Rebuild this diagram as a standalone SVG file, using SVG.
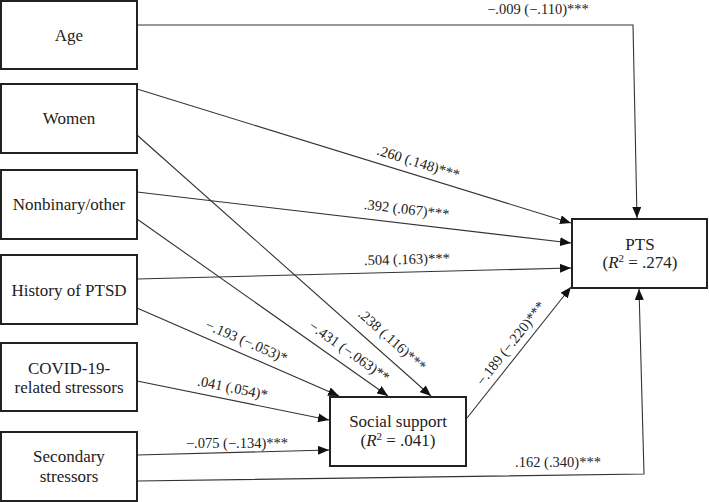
<svg xmlns="http://www.w3.org/2000/svg" width="709" height="502" viewBox="0 0 709 502">
<style>
.box{fill:#fff;stroke:#222;stroke-width:2}
.nt{font-family:"Liberation Serif","Times New Roman",serif;font-size:17px;fill:#222;text-anchor:middle}
.lb{font-family:"Liberation Serif","Times New Roman",serif;font-size:14.5px;fill:#222;text-anchor:middle}
.ln{fill:none;stroke:#333;stroke-width:1.1}
</style>
<defs>
<marker id="ah" viewBox="0 0 10 10" refX="10" refY="5" markerWidth="11" markerHeight="9" markerUnits="userSpaceOnUse" orient="auto" preserveAspectRatio="none">
<path d="M0,0 L10,5 L0,10 Z" fill="#111"/>
</marker>
</defs>
<rect width="709" height="502" fill="#fff"/>
<g id="connectors">
<path class="ln" d="M137,25 L633,25 L637,218" marker-end="url(#ah)"/>
<path class="ln" d="M137,89 L571,223" marker-end="url(#ah)"/>
<path class="ln" d="M137,135 L431,396" marker-end="url(#ah)"/>
<path class="ln" d="M137,192 L571,243" marker-end="url(#ah)"/>
<path class="ln" d="M137,219 L388,396" marker-end="url(#ah)"/>
<path class="ln" d="M137,279 L571,268" marker-end="url(#ah)"/>
<path class="ln" d="M137,308 L339,396" marker-end="url(#ah)"/>
<path class="ln" d="M137,381 L329,420" marker-end="url(#ah)"/>
<path class="ln" d="M137,455 L329,450" marker-end="url(#ah)"/>
<path class="ln" d="M137,481 L644,474 L639,289" marker-end="url(#ah)"/>
<path class="ln" d="M467,418 L571,287" marker-end="url(#ah)"/>
<text class="lb" x="538" y="14">−.009 (−.110)***</text>
<text class="lb" transform="translate(417,167) rotate(17.2)">.260 (.148)***</text>
<text class="lb" transform="translate(406,214) rotate(6.7)">.392 (.067)***</text>
<text class="lb" transform="translate(407,264) rotate(-1.5)">.504 (.163)***</text>
<text class="lb" transform="translate(389,343.5) rotate(41.6)">.238 (.116)***</text>
<text class="lb" transform="translate(346.5,355.3) rotate(35.2)">−.431 (−.063)**</text>
<text class="lb" transform="translate(244.7,345.8) rotate(23.3)">−.193 (−.053)*</text>
<text class="lb" transform="translate(231.6,392.5) rotate(11.5)">.041 (.054)*</text>
<text class="lb" x="237" y="448">−.075 (−.134)***</text>
<text class="lb" x="558" y="467">.162 (.340)***</text>
<text class="lb" transform="translate(514.5,346.3) rotate(-51.8)">−.189 (−.220)***</text>
</g>
<g id="age"><rect class="box" x="1" y="1" width="136" height="68"/><text class="nt" x="69" y="41">Age</text></g>
<g id="women"><rect class="box" x="1" y="84" width="136" height="69"/><text class="nt" x="69" y="124">Women</text></g>
<g id="nonbinary"><rect class="box" x="1" y="170" width="136" height="69"/><text class="nt" x="69" y="210">Nonbinary/other</text></g>
<g id="history"><rect class="box" x="1" y="255" width="136" height="69"/><text class="nt" x="69" y="296">History of PTSD</text></g>
<g id="covid"><rect class="box" x="1" y="343" width="136" height="68"/><text class="nt" x="69" y="374">COVID-19-</text><text class="nt" x="69" y="393">related stressors</text></g>
<g id="secondary"><rect class="box" x="1" y="432" width="136" height="69"/><text class="nt" x="69" y="462">Secondary</text><text class="nt" x="69" y="482">stressors</text></g>
<g id="social"><rect class="box" x="330" y="397" width="136" height="69"/><text class="nt" x="398" y="427">Social support</text><text class="nt" x="398" y="446">(<tspan font-style="italic">R</tspan><tspan font-size="11" dy="-6">2</tspan><tspan dy="6"> = .041)</tspan></text></g>
<g id="pts"><rect class="box" x="572" y="219" width="135" height="69"/><text class="nt" x="640" y="250">PTS</text><text class="nt" x="640" y="268">(<tspan font-style="italic">R</tspan><tspan font-size="11" dy="-6">2</tspan><tspan dy="6"> = .274)</tspan></text></g>
</svg>
